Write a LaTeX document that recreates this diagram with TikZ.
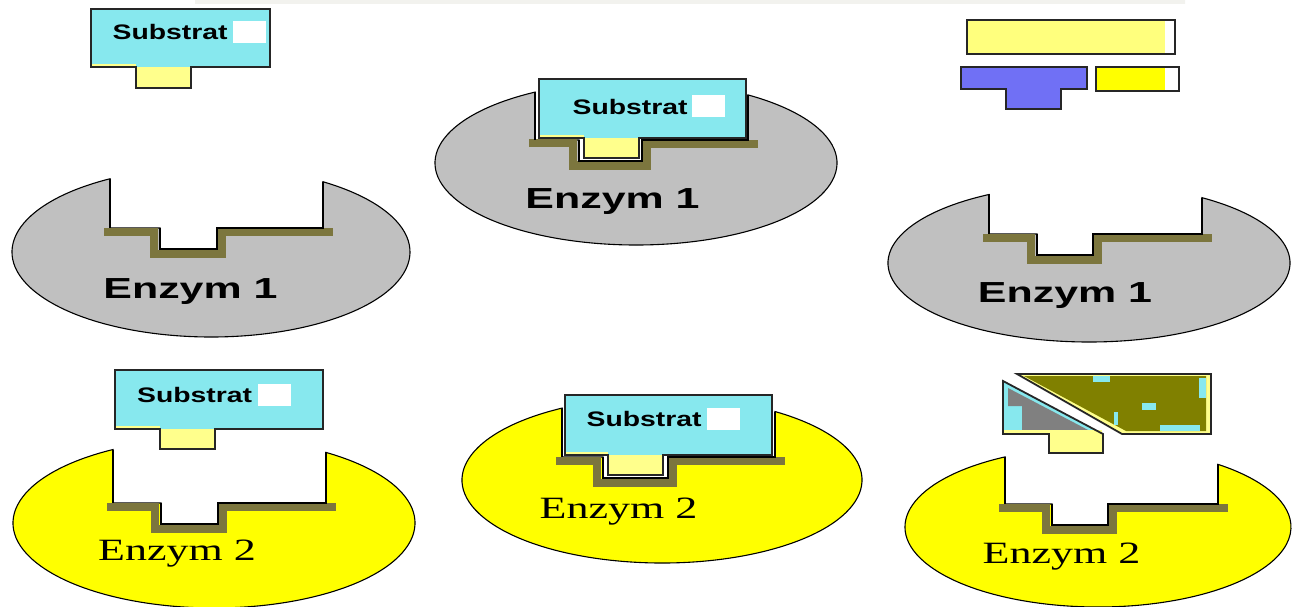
\documentclass[tikz,border=0pt]{standalone}
\usepackage{fontspec}
\setmainfont{Liberation Serif}
\newfontfamily\arialfont{Liberation Sans}
\usetikzlibrary{positioning}

\definecolor{enzgray}{RGB}{192,192,192}
\definecolor{enzyellow}{RGB}{255,255,0}
\definecolor{bandolive}{RGB}{124,118,62}
\definecolor{subcyan}{RGB}{135,232,238}
\definecolor{subyellow}{RGB}{255,255,140}
\definecolor{prodyellow}{RGB}{255,255,125}
\definecolor{prodblue}{RGB}{112,112,245}
\definecolor{cutgray}{RGB}{128,128,128}
\definecolor{cutolive}{RGB}{128,128,0}
\definecolor{hazegray}{RGB}{242,242,238}
\definecolor{hazebeige}{RGB}{240,238,212}

% stretched lettering
\newcommand{\wide}[2][1.45]{\scalebox{#1}[1]{#2}}

% enzyme: fill, cx, cy, rx, ry, left wall, ledge, stem left, stem right
\newcommand{\enzym}[9]{%
  \pgfmathsetmacro\enzXr{#6+213}
  \pgfmathsetmacro\enzSb{#7+21}
  \pgfmathsetmacro\enzYl{#3-#5*sqrt(1-((#6-#2)/#4)^2)}
  \pgfmathsetmacro\enzYr{#3-#5*sqrt(1-((\enzXr-#2)/#4)^2)}
  \pgfmathsetmacro\enzTl{360-acos((#6-#2)/#4)}
  \pgfmathsetmacro\enzTr{-acos((\enzXr-#2)/#4)}
  \draw[enz,fill=#1] (#6,\enzYl) arc[start angle=\enzTl, end angle=\enzTr, x radius=#4, y radius=#5]
    -- (\enzXr,#7) -- (#9,#7) -- (#9,\enzSb) -- (#8,\enzSb) -- (#8,#7) -- (#6,#7) -- cycle;
  \draw[band] (#6-6,#7+3.5) -- (#8-6,#7+3.5) -- (#8-6,\enzSb+4.5) -- (#9+5,\enzSb+4.5)
    -- (#9+5,#7+4) -- (\enzXr+10,#7+4);
  \draw[wall] (#6,\enzYl) -- (#6,#7);
  \draw[wall] (#8,#7) -- (#8,\enzSb) -- (#9,\enzSb) -- (#9,#7) -- (\enzXr,#7) -- (\enzXr,\enzYr);
}

% substrate: x1, y1, x2, y2, stem left, stem right, stem bottom
\newcommand{\substrat}[7]{%
  \fill[subcyan] (#1,#2) rectangle (#3,#4);
  \fill[subyellow] (#1,#4-3) rectangle (#5,#4);
  \fill[subyellow] (#5,#4) rectangle (#6,#7);
  \draw[outline] (#1,#2) -- (#3,#2) -- (#3,#4) -- (#6,#4) -- (#6,#7) -- (#5,#7) -- (#5,#4) -- (#1,#4) -- cycle;
}

\begin{document}
\begin{tikzpicture}[x=1pt,y=-1pt,
    enz/.style={line width=1.1pt,draw=black},
    wall/.style={line width=1.4pt,black},
    band/.style={line width=8pt,bandolive},
    outline/.style={line width=1.8pt,black!85},
    hole/.style={fill=white,minimum width=33pt,minimum height=22pt,inner sep=0pt},
    subtext/.style={font=\arialfont\bfseries\fontsize{21}{22}\selectfont,inner sep=0pt},
    enzAtext/.style={font=\arialfont\bfseries\fontsize{29}{30}\selectfont,inner sep=0pt,anchor=base},
    enzBtext/.style={font=\fontsize{31}{32}\selectfont,inner sep=0pt,anchor=base}]
  \useasboundingbox (0,0) rectangle (1293,607);
  \clip (0,0) rectangle (1293,607);
  \shade[left color=hazegray,middle color=hazebeige,right color=hazegray] (195,0) rectangle (1185,4);

  % Enzym 1 with free substrate
  \enzym{enzgray}{211}{252}{199}{85}{110}{228}{160}{217}
  \substrat{91}{9}{270}{67}{136}{191}{88}
  \node[hole] (holeA) at (249.5,32) {};
  \node[subtext,left=5pt of holeA] (subA) {\wide[1.35]{Substrat}};
  \node[enzAtext] (enzA) at (190.5,298) {\wide[1.48]{Enzym 1}};

  % Enzym 1 with bound substrate
  \enzym{enzgray}{636}{163}{201}{82}{535}{140}{579}{642}
  \substrat{539}{79}{746}{138}{584}{639}{158}
  \node[hole] (holeB) at (708.5,106.5) {};
  \node[subtext,left=4pt of holeB] (subB) {\wide[1.35]{Substrat}};
  \node[enzAtext] (enzB) at (612.5,208) {\wide[1.48]{Enzym 1}};

  % Enzym 1 after the reaction, products above
  \enzym{enzgray}{1089}{263}{201}{79}{989}{234}{1037}{1093}
  \node[enzAtext] (enzC) at (1065,302) {\wide[1.48]{Enzym 1}};
  \fill[prodyellow] (967,20) rectangle (1165,54);
  \draw[outline] (967,20) rectangle (1175,54);
  \draw[outline,fill=prodblue] (961,67) -- (1087,67) -- (1087,89) -- (1061,89) -- (1061,109)
    -- (1006,109) -- (1006,89) -- (961,89) -- cycle;
  \fill[enzyellow] (1096,67) rectangle (1165,91);
  \draw[outline] (1096,67) rectangle (1179,91);

  % Enzym 2 with free substrate
  \enzym{enzyellow}{214}{523}{201}{85}{113}{503}{161}{218}
  \substrat{115}{370}{323}{429}{160}{215}{449}
  \node[hole] (holeD) at (274,394.5) {};
  \node[subtext,left=5pt of holeD] (subD) {\wide[1.35]{Substrat}};
  \node[enzBtext] (enzD) at (177,560) {\wide[1.42]{Enzym 2}};

  % Enzym 2 with bound substrate
  \enzym{enzyellow}{662}{480}{200}{83}{562}{457}{603}{668}
  \substrat{565}{395}{772}{455}{608}{663}{475}
  \node[hole] (holeE) at (723.5,418.5) {};
  \node[subtext,left=5pt of holeE] (subE) {\wide[1.35]{Substrat}};
  \node[enzBtext] (enzE) at (618.5,518) {\wide[1.42]{Enzym 2}};

  % Enzym 2 with the substrate broken in two
  \enzym{enzyellow}{1098}{527}{193}{80}{1005}{504}{1052}{1108}
  \node[enzBtext] (enzF) at (1061.5,563) {\wide[1.42]{Enzym 2}};
  % left piece
  \fill[subcyan] (1003,381) -- (1102,434) -- (1003,434) -- cycle;
  \fill[cutgray] (1008,388) -- (1090,431) -- (1022,431) -- (1022,406) -- (1008,406) -- cycle;
  \fill[subyellow] (1003,430) rectangle (1102,434);
  \fill[subyellow] (1049,434) rectangle (1103,453);
  \draw[outline] (1003,381) -- (1103,434) -- (1103,453) -- (1049,453) -- (1049,434) -- (1003,434) -- cycle;
  % right piece
  \fill[subyellow] (1017,374) -- (1211,374) -- (1211,434) -- (1122,434) -- cycle;
  \fill[cutolive] (1024,376) -- (1206,376) -- (1206,431) -- (1126,431) -- cycle;
  \fill[subcyan] (1093,376) rectangle (1110,382);
  \fill[subcyan] (1142,403) rectangle (1156,410);
  \fill[subcyan] (1199,378) rectangle (1206,398);
  \fill[subcyan] (1160,425) rectangle (1200,431);
  \fill[subcyan] (1114,412) rectangle (1118,425);
  \draw[outline] (1017,374) -- (1211,374) -- (1211,434) -- (1122,434) -- cycle;
\end{tikzpicture}
\end{document}
